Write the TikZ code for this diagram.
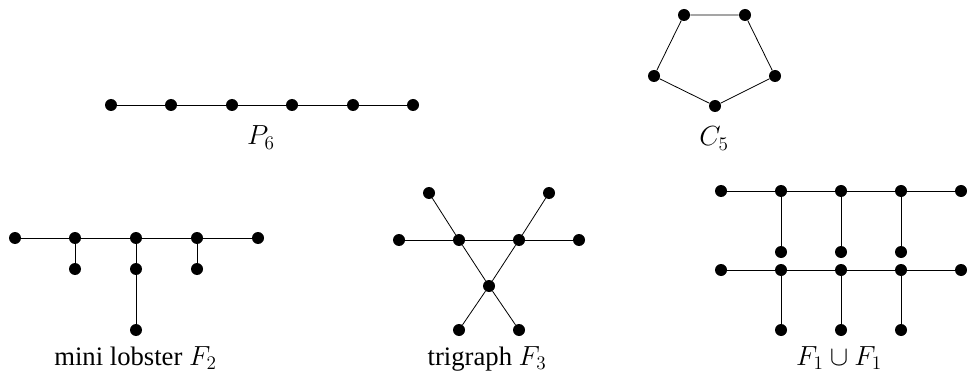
\documentclass[tikz,border=0pt]{standalone}
\usepackage{fontspec}
\setmainfont{Liberation Serif}
\begin{document}
\begin{tikzpicture}[x=0.75pt,y=-0.75pt,
  dot/.style={circle,fill=black,inner sep=0pt,minimum size=9pt},
  edge/.style={line width=0.6pt},
  lab/.style={font=\fontsize{20}{24}\selectfont,inner sep=0pt,anchor=base}]
\useasboundingbox (0,0) rectangle (967,381);
% P6
\foreach \i/\x in {1/111,2/171,3/232,4/292,5/353,6/413}{\node[dot] (p\i) at (\x,105) {};}
\draw[edge] (p1)--(p2)--(p3)--(p4)--(p5)--(p6);
\node[lab] (lp) at (261,145) {$P_6$};
% C5
\node[dot] (c1) at (684,15) {};
\node[dot] (c2) at (745,15) {};
\node[dot] (c3) at (775,76) {};
\node[dot] (c4) at (715,106) {};
\node[dot] (c5) at (654,76) {};
\draw[edge] (c1)--(c2)--(c3)--(c4)--(c5)--(c1);
\node[lab] (lc) at (714,146) {$C_5$};
% mini lobster
\foreach \i/\x in {1/15,2/75,3/136,4/197,5/258}{\node[dot] (m\i) at (\x,238) {};}
\node[dot] (ma) at (75,269) {};
\node[dot] (mb) at (136,269) {};
\node[dot] (mc) at (197,269) {};
\node[dot] (md) at (136,330) {};
\draw[edge] (m1)--(m2)--(m3)--(m4)--(m5);
\draw[edge] (m2)--(ma) (m3)--(mb)--(md) (m4)--(mc);
\node[lab] (lm) at (135.5,365) {mini lobster $F_2$};
% trigraph
\node[dot] (t1) at (399,240) {};
\node[dot] (t2) at (459,240) {};
\node[dot] (t3) at (519,240) {};
\node[dot] (t4) at (579,240) {};
\node[dot] (ta) at (429,193) {};
\node[dot] (tb) at (549,193) {};
\node[dot] (tc) at (489,286) {};
\node[dot] (td) at (459,330) {};
\node[dot] (te) at (519,330) {};
\draw[edge] (t1)--(t2)--(t3)--(t4);
\draw[edge] (ta)--(t2)--(tc)--(te) (tb)--(t3)--(tc)--(td);
\node[lab] (lt) at (487,365) {trigraph $F_3$};
% F1 u F1
\foreach \i/\x in {1/721,2/781,3/841,4/901,5/961}{
  \node[dot] (u\i) at (\x,191) {};
  \node[dot] (v\i) at (\x,270) {};}
\foreach \i in {2,3,4}{
  \node[dot] (ua\i) at ({60*\i+661},252) {};
  \node[dot] (vb\i) at ({60*\i+661},330) {};}
\draw[edge] (u1)--(u2)--(u3)--(u4)--(u5);
\draw[edge] (v1)--(v2)--(v3)--(v4)--(v5);
\foreach \i in {2,3,4}{\draw[edge] (u\i)--(ua\i) (v\i)--(vb\i);}
\node[lab] (lu) at (839,365) {$F_1\cup F_1$};
\end{tikzpicture}
\end{document}
